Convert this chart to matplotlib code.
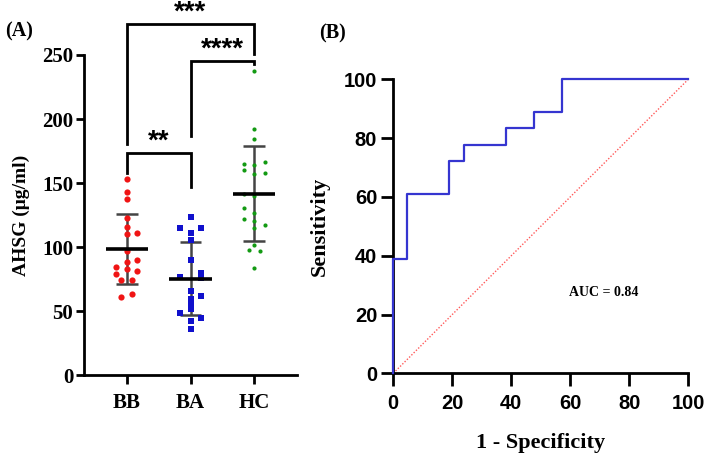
import numpy as np
import matplotlib.pyplot as plt

# AHSG values per group, with the column slot of each dot
groups = ['BB', 'BA', 'HC']
bb_vals = [153.1, 142.7, 137.5, 122.6, 115.6, 110.4, 110.9, 97.4, 90.1, 88.5,
           84.4, 82.8, 81.7, 79.1, 74.4, 74.4, 61.4, 63.5]
bb_slot = [0, 0, 0, 0, 0, 0, 2, 0, 2, 0, -2, 0, 2, -2, -1, 1, -1, 1]
ba_vals = [123.9, 114.8, 114.8, 110.9, 105.7, 90.1, 77.0, 79.7, 75.8, 65.9,
           62.2, 59.6, 55.5, 51.8, 48.4, 44.5, 42.4, 36.2]
ba_slot = [0, -2, 2, 0, 0, 0, -2, 2, 2, 0, 2, 0, 0, 0, -2, 2, 0, 0]
hc_vals = [237.7, 192.2, 184.4, 165.1, 164.3, 166.4, 159.9, 156.8, 157.9, 141.6,
           140.3, 130.4, 126.5, 122.1, 120.3, 117.7, 114.8, 102.0, 97.9, 97.4, 83.8]
hc_slot = [0, 0, 0, -2, 0, 2, -2, 0, 2, -2, 0, -2, 0, -2, 0, 2, 0, 0, -1, 1, 0]

# significance brackets: (left group, right group, top, left leg end, right leg end, label)
brackets = [(0, 1, 173.4, 157.8, 147.3, '**'),
            (1, 2, 245.5, 187.0, 242.6, '****'),
            (0, 2, 274.0, 180.7, 251.0, '***')]

# ROC curve vertices (1 - specificity, sensitivity) in %
roc_fpr = [0, 0, 4.76, 19.05, 23.81, 38.10, 47.62, 57.14, 100]
roc_tpr = [0, 38.89, 61.11, 72.22, 77.78, 83.33, 88.89, 100, 100]
auc = 0.84

serif = 'Liberation Serif'
sans = 'Liberation Sans'

fig = plt.figure(figsize=(7.08, 4.55), dpi=100)
axA = fig.add_axes([84 / 708, 1 - 375.3 / 455, (297 - 84) / 708, (375.3 - 55) / 455])
axB = fig.add_axes([393.3 / 708, 1 - 373.3 / 455, (688.3 - 393.3) / 708, (373.3 - 79.3) / 455])

# ---- panel A ----
step = 0.084
styles = [dict(c='#f01414', marker='o', s=20),
          dict(c='#1010cc', marker='s', s=18),
          dict(c='#139a13', marker='o', s=9)]
for i, (vals, slots) in enumerate([(bb_vals, bb_slot), (ba_vals, ba_slot), (hc_vals, hc_slot)]):
    vals = np.array(vals)
    xs = i + np.array(slots) * step
    axA.scatter(xs, vals, linewidths=0, zorder=3, **styles[i])
    m, sd = vals.mean(), vals.std(ddof=1)
    axA.vlines(i, m - sd, m + sd, color='#444444', lw=1.8, zorder=2)
    axA.hlines([m - sd, m + sd], i - 0.17, i + 0.17, color='#444444', lw=1.8, zorder=2)
    axA.hlines(m, i - 0.33, i + 0.33, color='black', lw=2.6, zorder=4)

for a, b, top, la, lb, lab in brackets:
    axA.plot([a, a, b, b], [la, top, top, lb], color='black', lw=2, clip_on=False,
             solid_joinstyle='miter')
    axA.annotate(lab, ((a + b) / 2, top), xytext=(0, 3.0), textcoords='offset points',
                 ha='center', va='baseline', fontsize=20, fontweight='bold',
                 family=sans, annotation_clip=False)

axA.set_xlim(-0.67, 2.67)
axA.set_ylim(0, 250)
axA.set_xticks(range(3))
axA.set_xticklabels(groups)
axA.set_yticks(range(0, 251, 50))
axA.set_ylabel('AHSG (μg/ml)', fontsize=14, fontweight='bold', family=serif, labelpad=9)

# ---- panel B ----
axB.plot(roc_fpr, roc_tpr, drawstyle='steps-post', color='#3535d0', lw=1.6,
         clip_on=False, zorder=3)
axB.plot([0, 100], [0, 100], color='#ff5a5a', lw=1.0, ls=(0, (1, 1.3)), clip_on=False)
axB.text(71.4, 27.6, 'AUC = %.2f' % auc, ha='center', va='center', fontsize=10,
         fontweight='bold', family=serif)
axB.set_xlim(0, 100)
axB.set_ylim(0, 100)
axB.set_xticks(range(0, 101, 20))
axB.set_yticks(range(0, 101, 20))
axB.set_xlabel('1 - Specificity', fontsize=16, fontweight='bold', family=serif, labelpad=14)
axB.set_ylabel('Sensitivity', fontsize=16, fontweight='bold', family=serif, labelpad=10)

for ax, fam, fs in [(axA, serif, 15), (axB, sans, 14.5)]:
    for side in ['top', 'right']:
        ax.spines[side].set_visible(False)
    for side in ['left', 'bottom']:
        ax.spines[side].set_linewidth(2)
    for t in ax.get_xticklabels() + ax.get_yticklabels():
        t.set_family(fam)
        t.set_fontweight('bold')
        t.set_fontsize(fs)

axA.tick_params(axis='x', width=2, length=6.5, pad=6)
axA.tick_params(axis='y', width=2, length=5.8, pad=2)
axB.tick_params(axis='x', width=2, length=9, pad=6)
axB.tick_params(axis='y', width=2, length=8.6, pad=3)

fig.text(19 / 708, 1 - 31 / 455, '(A)', ha='center', va='center', fontsize=14.5,
         fontweight='bold', family=serif)
fig.text(332 / 708, 1 - 33 / 455, '(B)', ha='center', va='center', fontsize=14.5,
         fontweight='bold', family=serif)

fig.savefig('out.png', dpi=100)
